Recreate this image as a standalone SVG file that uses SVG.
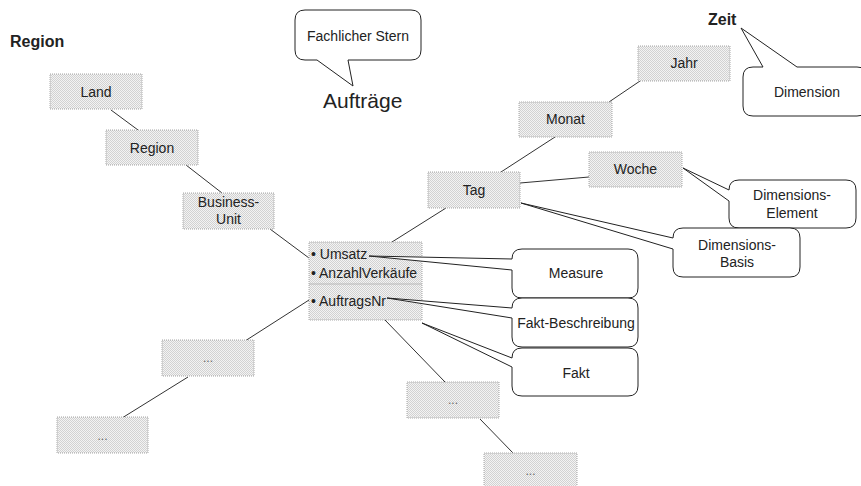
<svg xmlns="http://www.w3.org/2000/svg" width="861" height="486" viewBox="0 0 861 486">
  <defs>
    <!-- fine stipple used for the entity boxes -->
    <pattern id="stipple" width="2" height="2" patternUnits="userSpaceOnUse">
      <rect width="2" height="2" fill="#f3f3f3"/>
      <rect width="1" height="1" fill="#d2d2d2"/>
      <rect x="1" y="1" width="1" height="1" fill="#d2d2d2"/>
    </pattern>
  </defs>
  <style>
    text { font-family: "Liberation Sans", Arial, sans-serif; fill: #222; }
    .lbl { font-size: 14px; text-anchor: middle; }
    .dots { font-size: 12px; text-anchor: middle; fill: #666; }
    .title { font-size: 16px; font-weight: bold; }
    .box { fill: url(#stipple); stroke: #a8a8a8; stroke-width: 1; stroke-dasharray: 1 1; }
    .bubble { fill: #fff; stroke: #222; stroke-width: 1; stroke-linejoin: round; }
    .conn line { stroke: #333; stroke-width: 1; }
  </style>
  <rect width="861" height="486" fill="#fff"/>

  <!-- connectors -->
  <g id="connectors" class="conn">
    <line x1="111" y1="110" x2="138" y2="130"/>
    <line x1="186" y1="165" x2="222" y2="193"/>
    <line x1="270" y1="229" x2="309" y2="258"/>
    <line x1="640" y1="81" x2="609" y2="102"/>
    <line x1="555" y1="137" x2="501" y2="172"/>
    <line x1="520" y1="183" x2="589" y2="177"/>
    <line x1="446" y1="208" x2="392" y2="242"/>
    <line x1="309" y1="300" x2="245" y2="341"/>
    <line x1="188" y1="377" x2="122" y2="418"/>
    <line x1="385" y1="320" x2="445" y2="382"/>
    <line x1="480" y1="419" x2="513" y2="453"/>
  </g>

  <!-- titles -->
  <g id="title-region"><text class="title" x="10" y="47">Region</text></g>
  <g id="title-zeit"><text class="title" x="708" y="25">Zeit</text></g>
  <g id="title-auftraege"><text x="323" y="108" style="font-size:21px">Aufträge</text></g>

  <!-- region hierarchy -->
  <g id="land"><rect class="box" x="50" y="74" width="92" height="35"/><text class="lbl" x="96" y="97">Land</text></g>
  <g id="region"><rect class="box" x="106" y="130" width="92" height="35"/><text class="lbl" x="152" y="153">Region</text></g>
  <g id="business-unit"><rect class="box" x="183" y="193" width="91" height="36"/><text class="lbl" x="228.5" y="207">Business-</text><text class="lbl" x="228.5" y="224">Unit</text></g>

  <!-- time hierarchy -->
  <g id="jahr"><rect class="box" x="638" y="46" width="92" height="35"/><text class="lbl" x="684" y="68">Jahr</text></g>
  <g id="monat"><rect class="box" x="519" y="102" width="93" height="35"/><text class="lbl" x="565.5" y="124">Monat</text></g>
  <g id="tag"><rect class="box" x="428" y="172" width="92" height="36"/><text class="lbl" x="474" y="195">Tag</text></g>
  <g id="woche"><rect class="box" x="589" y="152" width="93" height="35"/><text class="lbl" x="635.5" y="174">Woche</text></g>

  <!-- fact table -->
  <g id="fakt-tabelle">
    <rect class="box" x="309" y="242" width="113" height="78"/>
    <line x1="309" y1="284" x2="422" y2="284" stroke="#b8b8b8" stroke-width="1"/>
    <text x="311" y="259" style="font-size:14px">• Umsatz</text>
    <text x="311" y="278" style="font-size:14px">• AnzahlVerkäufe</text>
    <text x="311" y="306" style="font-size:14px">• AuftragsNr</text>
  </g>

  <!-- further dimensions -->
  <g id="dim-a1"><rect class="box" x="162" y="340" width="92" height="36"/><text class="dots" x="208" y="362">...</text></g>
  <g id="dim-a2"><rect class="box" x="57" y="417" width="91" height="36"/><text class="dots" x="102.5" y="440">...</text></g>
  <g id="dim-b1"><rect class="box" x="407" y="382" width="92" height="36"/><text class="dots" x="453" y="404">...</text></g>
  <g id="dim-b2"><rect class="box" x="484" y="453" width="93" height="36"/><text class="dots" x="530.5" y="475">...</text></g>

  <!-- callouts -->
  <g id="callout-fachlicher-stern">
    <path class="bubble" d="M305,10 H411 Q421,10 421,20 V50 Q421,60 411,60 H348 L353,86 L317,60 H305 Q295,60 295,50 V20 Q295,10 305,10 Z"/>
    <text class="lbl" x="358" y="41">Fachlicher Stern</text>
  </g>
  <g id="callout-dimension">
    <path class="bubble" d="M753,67 H763 L741,28 L797,67 H857 Q867,67 867,77 V106 Q867,116 857,116 H753 Q743,116 743,106 V77 Q743,67 753,67 Z"/>
    <text class="lbl" x="807" y="97">Dimension</text>
  </g>
  <g id="callout-dimensions-element">
    <path class="bubble" d="M739,180 H846 Q856,180 856,190 V218 Q856,228 846,228 H739 Q729,228 729,218 V201 L683,168 L729,190 Q729,180 739,180 Z"/>
    <text class="lbl" x="792" y="200">Dimensions-</text>
    <text class="lbl" x="792" y="218">Element</text>
  </g>
  <g id="callout-dimensions-basis">
    <path class="bubble" d="M683,228 H790 Q800,228 800,238 V267 Q800,277 790,277 H683 Q673,277 673,267 V249 L521,203 L673,238 Q673,228 683,228 Z"/>
    <text class="lbl" x="737" y="250">Dimensions-</text>
    <text class="lbl" x="737" y="267">Basis</text>
  </g>
  <g id="callout-measure">
    <path class="bubble" d="M522,249 H628 Q638,249 638,259 V288 Q638,298 628,298 H522 Q512,298 512,288 V270 L369,256 L512,259 Q512,249 522,249 Z"/>
    <text class="lbl" x="576" y="278">Measure</text>
  </g>
  <g id="callout-fakt-beschreibung">
    <path class="bubble" d="M522,298 H628 Q638,298 638,308 V337 Q638,347 628,347 H522 Q512,347 512,337 V318 L387,298 L512,308 Q512,298 522,298 Z"/>
    <text class="lbl" x="576" y="328">Fakt-Beschreibung</text>
  </g>
  <g id="callout-fakt">
    <path class="bubble" d="M522,348 H628 Q638,348 638,358 V386 Q638,396 628,396 H522 Q512,396 512,386 V367 L422,323 L512,358 Q512,348 522,348 Z"/>
    <text class="lbl" x="576" y="378">Fakt</text>
  </g>
</svg>
